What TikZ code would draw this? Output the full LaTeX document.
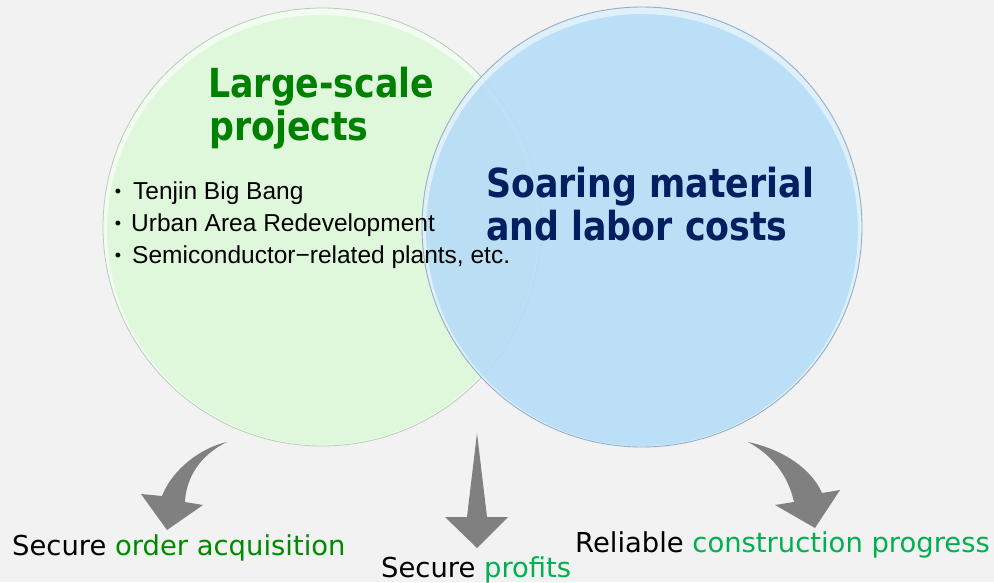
\documentclass[tikz,border=0pt]{standalone}
\usepackage{fontspec}
\setmainfont{Liberation Sans}
\newfontfamily\headfont{DejaVu Sans}[FakeStretch=0.87]
\newfontfamily\labelfont{DejaVu Sans}
\newfontfamily\bulletfont{Liberation Sans}
\definecolor{bg}{HTML}{F2F2F2}
\definecolor{lgreen}{HTML}{DFF8DC}
\definecolor{lblue}{HTML}{B6DDF8}
\definecolor{titlegreen}{HTML}{008000}
\definecolor{navy}{HTML}{002060}
\definecolor{darkgreen}{HTML}{008A00}
\definecolor{brightgreen}{HTML}{00B050}
\definecolor{arrowgray}{HTML}{808080}
\definecolor{lrim}{HTML}{B5CFB5}
\definecolor{brim}{HTML}{93AEC6}
\tikzset{
  headtext/.style={font=\headfont\bfseries\fontsize{40}{40}\selectfont, inner sep=0pt, anchor=base west},
  itemtext/.style={font=\bulletfont\fontsize{24.5}{24.5}\selectfont, text=black, inner sep=0pt, anchor=base west},
  dottext/.style={font=\bulletfont\fontsize{18}{18}\selectfont, text=black, inner sep=0pt, anchor=base},
  labeltext/.style={font=\labelfont\fontsize{27.4}{27.4}\selectfont, text=black, inner sep=0pt, anchor=base west},
  blockarrow/.style={fill=arrowgray, draw=none},
}
\begin{document}
\begin{tikzpicture}[x=1pt,y=-1pt]
\useasboundingbox (0,0) rectangle (994,582);
\fill[bg] (0,0) rectangle (994,582);

% left circle
\node[circle, minimum size=438pt, inner sep=0pt, fill=lgreen] (lc) at (322,227) {};
\begin{scope}
  \clip (lc.center) circle (219pt);
  \draw[white, opacity=0.6, line width=8pt] ([yshift=-3pt]lc.center) circle (219pt);
\end{scope}
\draw[lrim, line width=0.8pt] (lc.center) circle (219pt);

% right circle
\node[circle, minimum size=440pt, inner sep=0pt, fill=lblue, fill opacity=0.9] (rc) at (642,227) {};
\begin{scope}
  \clip (rc.center) circle (220pt);
  \draw[white, opacity=0.55, line width=8pt] ([yshift=-3pt]rc.center) circle (220pt);
\end{scope}
\draw[brim, line width=0.9pt] (rc.center) circle (220pt);

% titles
\node[headtext, text=titlegreen] (t1) at (208,97) {Large-scale};
\node[headtext, text=titlegreen] (t2) at (209,140) {projects};
\node[headtext, text=navy] (s1) at (486,197) {Soaring material};
\node[headtext, text=navy] (s2) at (486,240) {and labor costs};

% bullet list
\node[dottext] (d1) at (118,197) {•};
\node[dottext] (d2) at (118,229) {•};
\node[dottext] (d3) at (118,261) {•};
\node[itemtext] (b1) at (133,199) {Tenjin Big Bang};
\node[itemtext] (b2) at (131,231) {Urban Area Redevelopment};
\node[itemtext] (b3) at (132,263) {Semiconductor−related plants, etc.};

% arrows
\fill[blockarrow] (227,442) .. controls (200,448) and (172,470) .. (162,496)
  -- (141,494) -- (167,530) -- (203,505) -- (185,502)
  .. controls (186,478) and (200,455) .. (227,442) -- cycle;
\fill[blockarrow] (477,433) -- (487,517) -- (508,517) -- (477,548)
  -- (445,517) -- (467,517) -- cycle;
\fill[blockarrow] (748,442) .. controls (785,450) and (812,470) .. (822,493)
  -- (840,490) -- (815,528) -- (775,505) -- (794,502)
  .. controls (788,475) and (772,455) .. (748,442) -- cycle;

% outcome labels
\node[labeltext] (o1) at (12,555) {Secure \textcolor{darkgreen}{order acquisition}};
\node[labeltext] (o2) at (381,577) {Secure \textcolor{brightgreen}{profits}};
\node[labeltext] (o3) at (575,552) {Reliable \textcolor{brightgreen}{construction progress}};
\end{tikzpicture}
\end{document}
